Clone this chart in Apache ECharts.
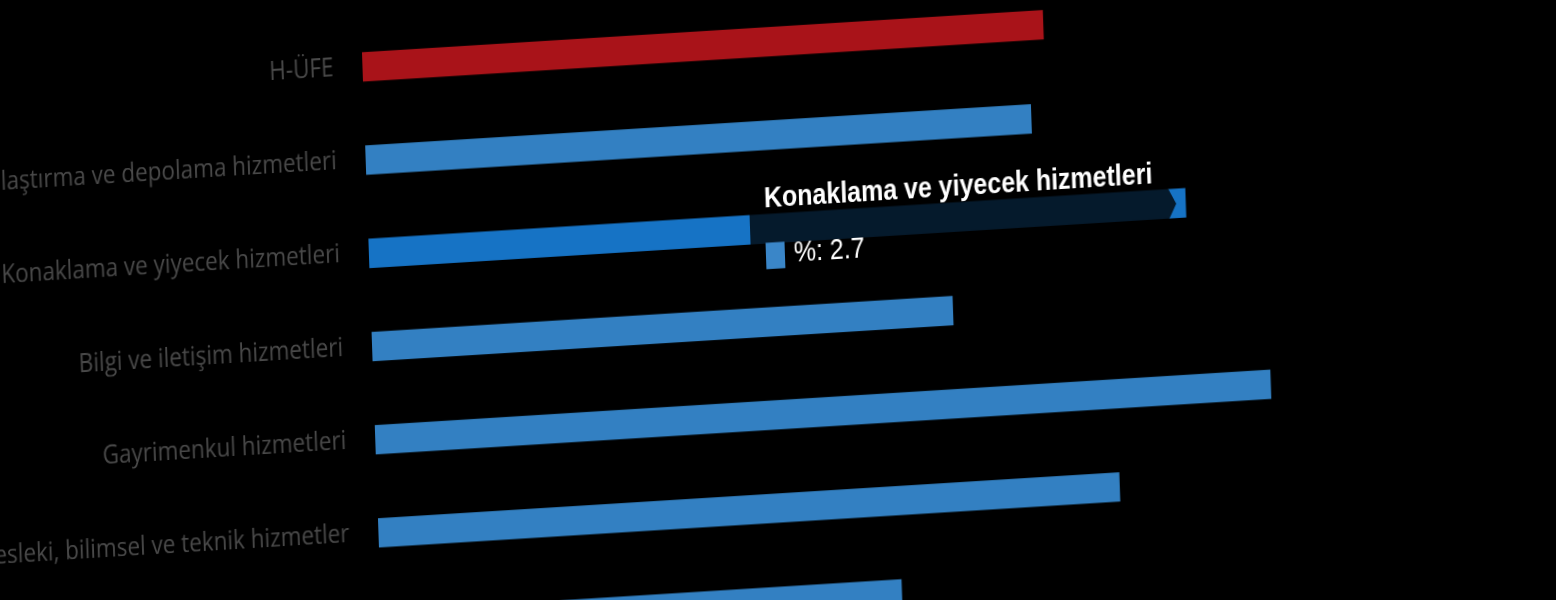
<!DOCTYPE html>
<html>
<head>
<meta charset="utf-8">
<title>H-ÜFE</title>
<script src="https://cdn.jsdelivr.net/npm/echarts@6/dist/echarts.min.js"></script>
<style>
html, body { margin: 0; padding: 0; width: 100%; height: 100%; background: #000; overflow: hidden; }
/* the chart is photographed tilted, so the whole box is skewed */
#box_hufe {
	position: absolute; left: 0; top: 0;
	width: 1700px; height: 700px;
	transform-origin: 0 0;
	transform: matrix(0.998, -0.0619, 0.0394, 1.149, -59.1, 23.4);
}
</style>
</head>
<body>
<div id="box_hufe"></div>
<script>
var categories = [
	'H-ÜFE',
	'Ulaştırma ve depolama hizmetleri',
	'Konaklama ve yiyecek hizmetleri',
	'Bilgi ve iletişim hizmetleri',
	'Gayrimenkul hizmetleri',
	'Mesleki, bilimsel ve teknik hizmetler',
	'İdari ve destek hizmetleri'
];
var values = [2.25, 2.2, 2.7, 1.92, 2.96, 2.45, 1.72];
var hoverIndex = 2;

function box_hufe() {
	var myChart = echarts.init(document.getElementById('box_hufe'), null, { devicePixelRatio: 2 });

	// first bar (the index itself) is red, sectors are blue
	var barData = values.map(function (v, i) {
		if (i === 0) {
			return { value: v, itemStyle: { color: '#a91319' }, emphasis: { itemStyle: { color: '#a91319' } } };
		}
		return { value: v };
	});

	var option = {
		backgroundColor: '#000',
		animation: false,
		tooltip: {
			trigger: 'item',
			triggerOn: 'none',
			alwaysShowContent: true,
			transitionDuration: 0,
			position: [802, 172],
			backgroundColor: 'rgba(0,0,0,0.78)',
			borderWidth: 0,
			padding: [8, 15],
			extraCssText: 'box-shadow:none;border-radius:0;',
			formatter: function (p) {
				return '<div style="position:relative;font-family:\'Liberation Sans\',Arial,sans-serif;color:#fff;">' +
					'<div style="font-weight:bold;font-size:25px;line-height:30px;white-space:nowrap;">' + p.name + '</div>' +
					'<div style="margin-top:19px;font-size:25px;line-height:30px;">' +
					'<span style="display:inline-block;width:19px;height:23px;background:#3a86c8;vertical-align:-5px;margin-right:9px;"></span>' +
					'%: ' + p.value + '</div>' +
					'</div>' +
					'<span style="position:absolute;right:-8px;top:37px;width:0;height:0;border-top:14px solid transparent;border-bottom:14px solid transparent;border-left:8px solid rgba(0,0,0,0.78);"></span>';
			}
		},
		grid: {
			left: 420,
			top: 20,
			width: 1212.8,
			height: 567.7
		},
		xAxis: {
			type: 'value',
			min: 0,
			max: 4,
			show: false,
			splitLine: { show: false }
		},
		yAxis: {
			type: 'category',
			inverse: true,
			data: categories,
			axisLine: { show: false },
			axisTick: { show: false },
			axisLabel: {
				color: '#4a4a4a',
				fontFamily: 'Open Sans',
				fontSize: 22.5,
				margin: 29
			}
		},
		series: [{
			name: '%',
			type: 'bar',
			barWidth: 25.5,
			data: barData,
			itemStyle: { color: '#3380c2' },
			emphasis: {
				itemStyle: { color: '#1673c5' }
			}
		}]
	};

	myChart.setOption(option);

	// the reference was captured while hovering one bar
	myChart.dispatchAction({ type: 'highlight', seriesIndex: 0, dataIndex: hoverIndex });
	myChart.dispatchAction({ type: 'showTip', seriesIndex: 0, dataIndex: hoverIndex });
}

box_hufe()
</script>
</body>
</html>
